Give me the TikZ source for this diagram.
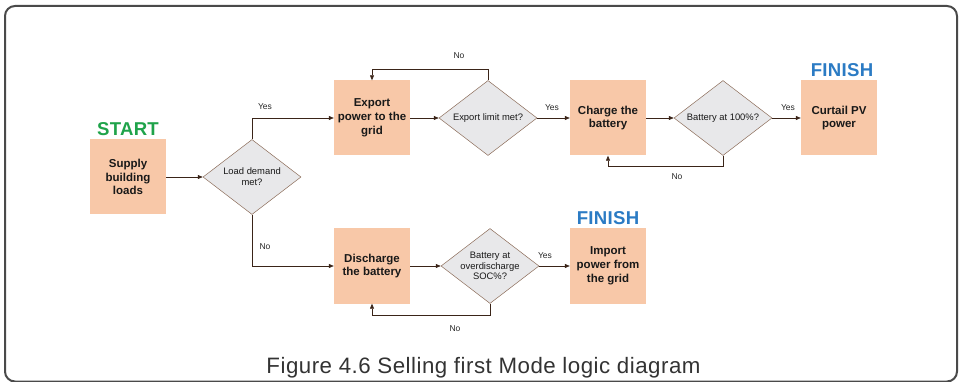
\documentclass[tikz,border=0pt]{standalone}
\usepackage{fontspec}
\setmainfont{Liberation Sans}
\newfontfamily\capfont[LetterSpace=2.2]{Liberation Sans}
\newfontfamily\tagfont[LetterSpace=1.5]{Liberation Sans}
\usetikzlibrary{shapes.geometric,arrows.meta}
\definecolor{boxfill}{HTML}{F8C8A8}
\definecolor{diafill}{HTML}{E8E8EA}
\definecolor{diaborder}{HTML}{8B6B58}
\definecolor{linecol}{HTML}{3A2418}
\definecolor{startgreen}{HTML}{1FA34A}
\definecolor{finishblue}{HTML}{2B7BC4}
\definecolor{framecol}{HTML}{4A4A4A}
\definecolor{captioncol}{HTML}{333333}
\begin{document}
\begin{tikzpicture}[x=1pt,y=-1pt,
  stepbox/.style={fill=boxfill, minimum width=76pt, minimum height=75pt, inner sep=0pt, align=center,
    font=\bfseries\fontsize{11.5}{13.8}\selectfont, text=black!90},
  dia/.style={diamond, draw=diaborder, fill=diafill, line width=0.5pt, minimum width=98pt, minimum height=75pt, inner sep=0pt},
  diatext/.style={align=center, font=\fontsize{9.4}{10.8}\selectfont, text=black!90, inner sep=0pt},
  conn/.style={draw=linecol, line width=0.6pt},
  arr/.style={conn, -{Triangle[length=5pt,width=4pt]}},
  lbl/.style={font=\fontsize{8.5}{10}\selectfont, text=black!85, inner sep=0pt},
  tag/.style={font=\tagfont\bfseries\fontsize{18.6}{20}\selectfont, inner sep=0pt}
]
\useasboundingbox (0,0) rectangle (961,382);
\draw[framecol, line width=2pt, rounded corners=10pt] (5,6) rectangle (957,381.5);

% boxes
\node[stepbox] (sup) at (128,177) {Supply\\building\\loads};
\node[stepbox] (exp) at (372,118) {Export\\power to the\\grid};
\node[stepbox] (chg) at (608,118) {Charge the\\battery};
\node[stepbox] (cur) at (839,118) {Curtail PV\\power};
\node[stepbox] (dis) at (372,266) {Discharge\\the battery};
\node[stepbox] (imp) at (608,266) {Import\\power from\\the grid};

% diamonds
\node[dia] (d1) at (252,177) {};
\node[diatext] (t1) at (d1) {Load demand\\met?};
\node[dia] (d2) at (488,118) {};
\node[diatext] (t2) at (d2) {Export limit met?};
\node[dia] (d3) at (723,118) {};
\node[diatext] (t3) at (d3) {Battery at 100\%?};
\node[dia] (d4) at (490,266) {};
\node[diatext] (t4) at (d4) {Battery at\\overdischarge\\SOC\%?};

% tags
\node[tag, text=startgreen] (start) at (128,129.5) {START};
\node[tag, text=finishblue] (fin1) at (842,70) {FINISH};
\node[tag, text=finishblue] (fin2) at (608,218) {FINISH};

% connectors
\draw[arr] (sup.east) -- (d1.west);
\draw[arr] (d1.north) |- (exp.west);
\draw[arr] (exp.east) -- (d2.west);
\draw[arr] (d2.north) -- ++(0,-11) -| (exp.north);
\draw[arr] (d2.east) -- (chg.west);
\draw[arr] (chg.east) -- (d3.west);
\draw[arr] (d3.east) -- (cur.west);
\draw[arr] (d3.south) -- ++(0,11) -| (chg.south);
\draw[arr] (d1.south) |- (dis.west);
\draw[arr] (dis.east) -- (d4.west);
\draw[arr] (d4.east) -- (imp.west);
\draw[arr] (d4.south) -- ++(0,12) -| (dis.south);

% labels
\node[lbl] (l1) at (265,107) {Yes};
\node[lbl] (l2) at (459,56) {No};
\node[lbl] (l3) at (552,108) {Yes};
\node[lbl] (l4) at (788,108) {Yes};
\node[lbl] (l5) at (677,177) {No};
\node[lbl] (l6) at (265,247) {No};
\node[lbl] (l7) at (455,329) {No};
\node[lbl] (l8) at (545,256) {Yes};

% caption
\node[font=\capfont\fontsize{22.3}{26}\selectfont, text=captioncol, inner sep=0pt, anchor=base] (cap) at (483.5,373.3) {Figure 4.6 Selling first Mode logic diagram};
\end{tikzpicture}
\end{document}
